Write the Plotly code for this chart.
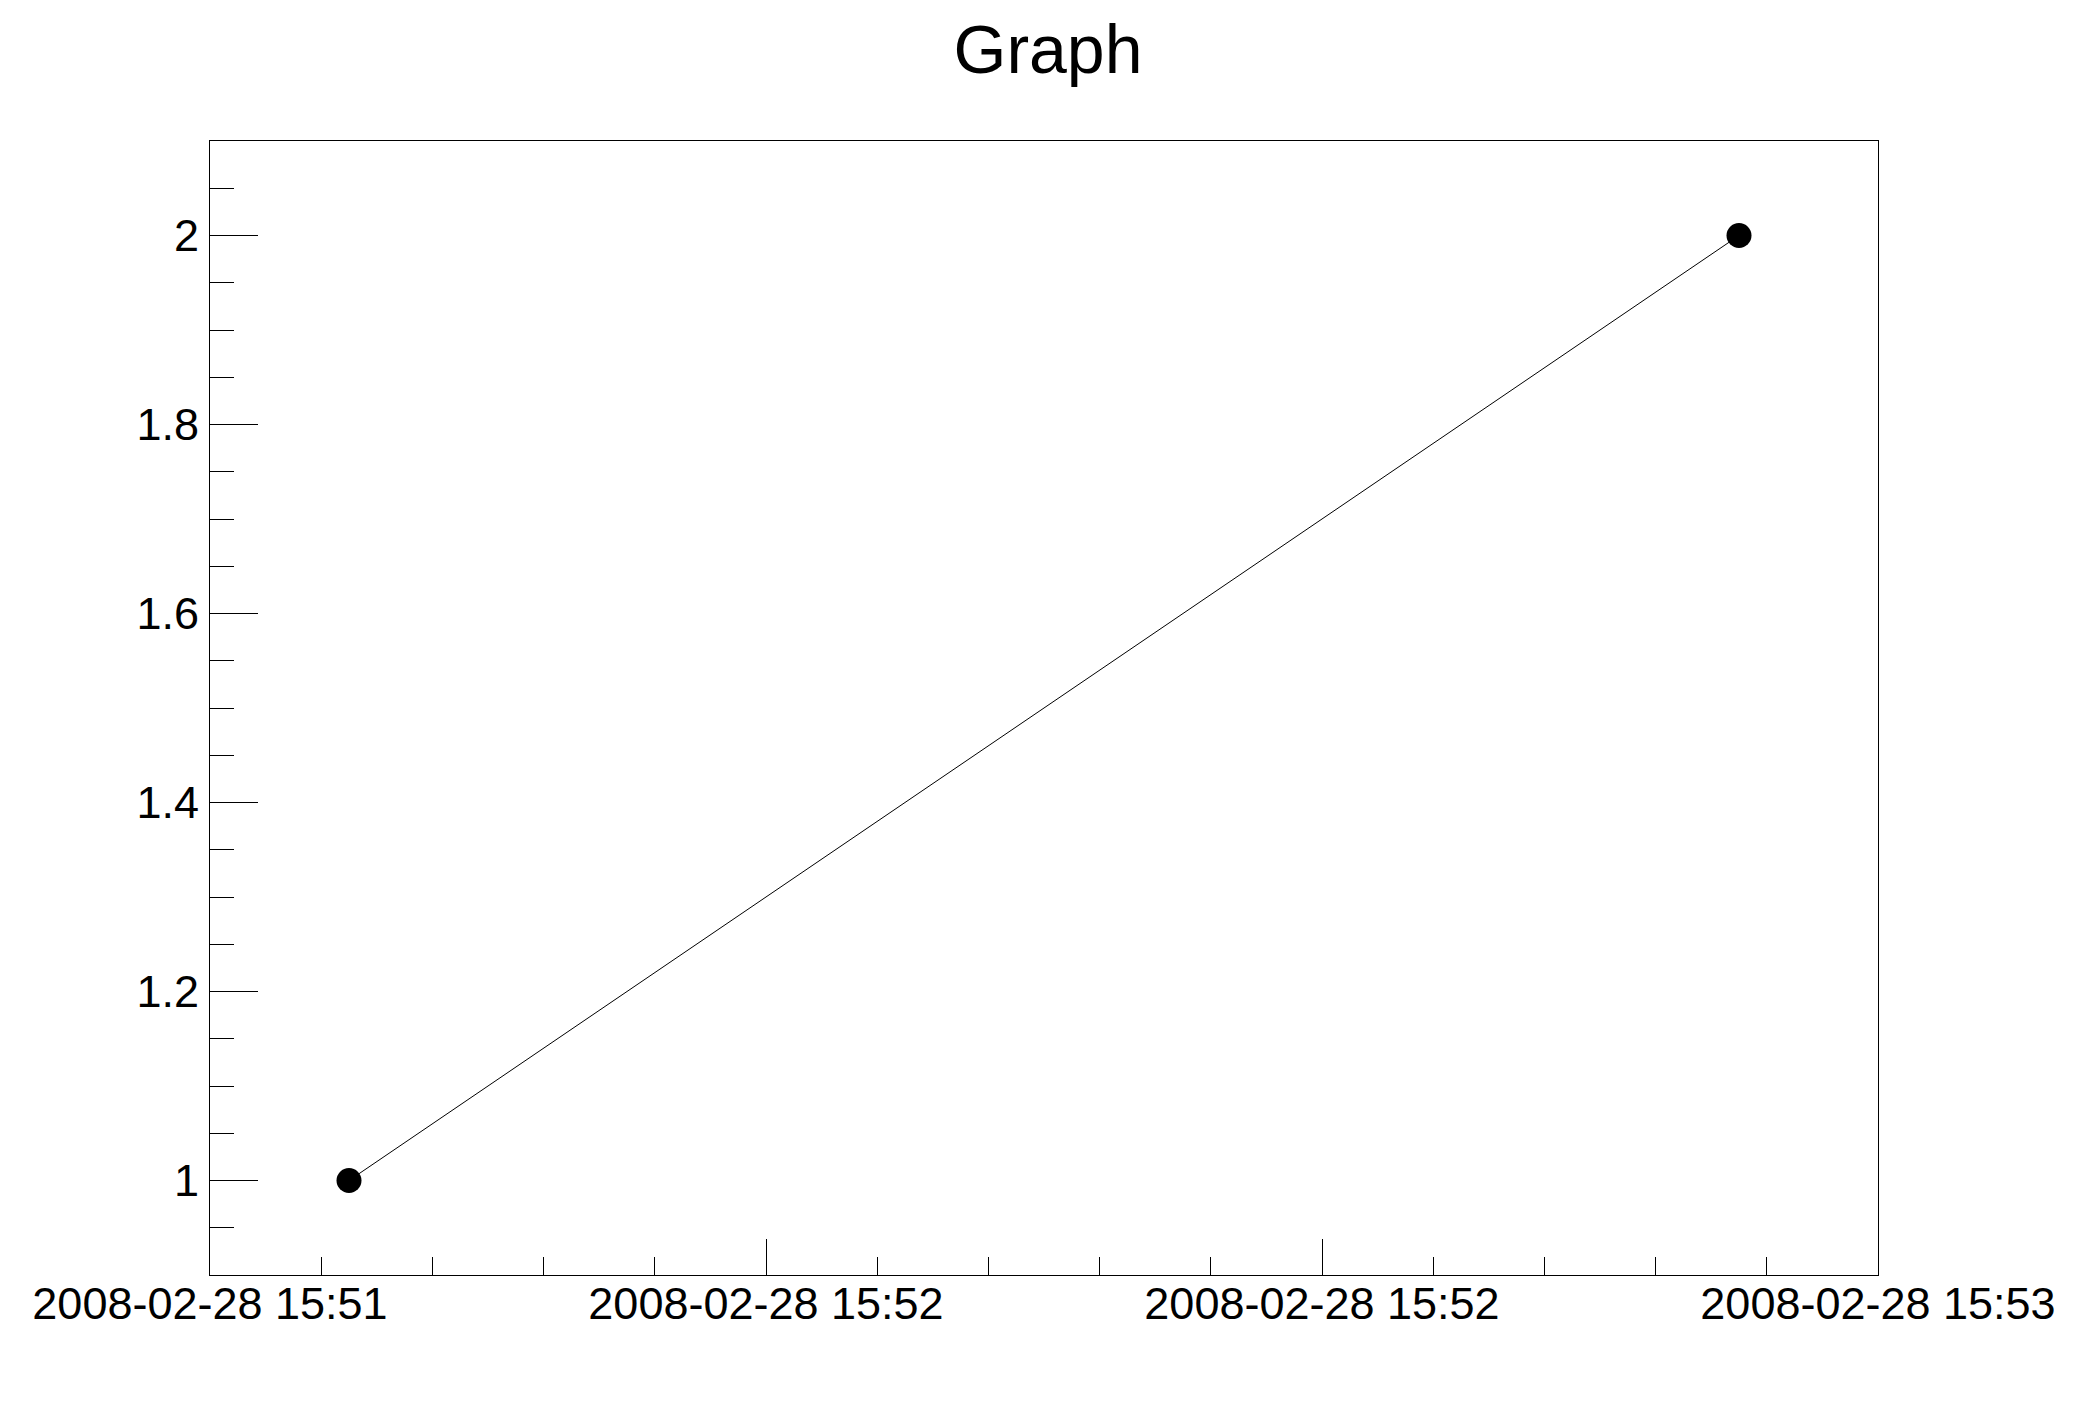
import plotly.graph_objects as go

# graph points (time, value)
times = ["2008-02-28 15:51:30", "2008-02-28 15:53:10"]
values = [1, 2]

# axis setup
x_range = ["2008-02-28 15:51:20", "2008-02-28 15:53:20"]
y_range = [0.9, 2.1]

# page body adds 8px, so the figure is a bit smaller than the window
W, H = 2080, 1408

fig = go.Figure()
fig.add_trace(
    go.Scatter(
        x=times,
        y=values,
        mode="lines+markers",
        line=dict(color="black", width=1),
        marker=dict(color="black", size=25, symbol="circle"),
        showlegend=False,
    )
)

axis_font = dict(family="Liberation Sans, Arial, sans-serif", size=45, color="black")

fig.update_xaxes(
    type="date",
    range=x_range,
    tick0=x_range[0],
    dtick=40000,
    tickformat="%Y-%m-%d %H:%M",
    ticks="inside",
    ticklen=36,
    tickwidth=1,
    tickcolor="black",
    minor=dict(dtick=8000, ticks="inside", ticklen=18, tickwidth=1, tickcolor="black"),
    showline=True,
    linecolor="black",
    linewidth=1,
    mirror=True,
    showgrid=False,
    zeroline=False,
    tickfont=axis_font,
    ticklabelstandoff=-11,
)
fig.update_yaxes(
    range=y_range,
    tick0=0,
    dtick=0.2,
    ticks="inside",
    ticklen=48,
    tickwidth=1,
    tickcolor="black",
    minor=dict(dtick=0.05, ticks="inside", ticklen=24, tickwidth=1, tickcolor="black"),
    showline=True,
    linecolor="black",
    linewidth=1,
    mirror=True,
    showgrid=False,
    zeroline=False,
    tickfont=axis_font,
    ticklabelstandoff=1,
)

fig.update_layout(
    width=W,
    height=H,
    margin=dict(l=202, r=210, t=133, b=141),
    paper_bgcolor="white",
    plot_bgcolor="white",
    title=dict(
        text="Graph",
        x=0.5,
        xanchor="center",
        y=1 - 41 / H,
        yanchor="middle",
        font=dict(family="Liberation Sans, Arial, sans-serif", size=68, color="black"),
    ),
)

fig.write_html("out.html")
